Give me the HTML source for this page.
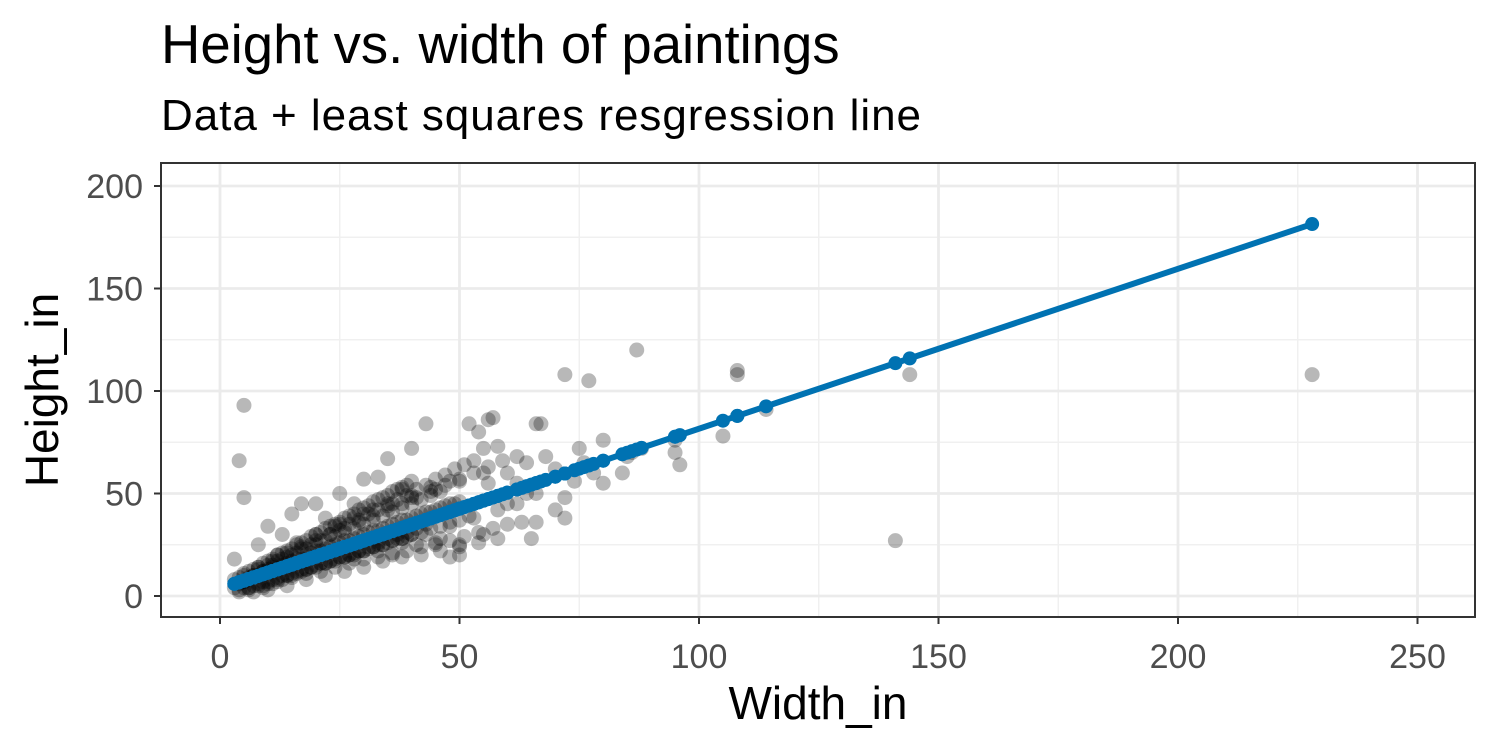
<!DOCTYPE html>
<html><head><meta charset="utf-8"><style>
body{margin:0;background:#fff}
svg text{font-family:"Liberation Sans",Arial,sans-serif}
</style></head><body>
<svg id="chart" width="1500" height="750" xmlns="http://www.w3.org/2000/svg">
<text x="161" y="63" font-size="54.5" fill="#000">Height vs. width of paintings</text>
<text x="161" y="130" font-size="44" fill="#000" textLength="760">Data + least squares resgression line</text>
<g id="grid"></g>
<g id="pts"></g>
<g id="fit"></g>
<rect x="161" y="163" width="1314" height="454" fill="none" stroke="#333" stroke-width="2"/>
<g id="axes"></g>
<text x="818" y="719" font-size="46" text-anchor="middle" fill="#000">Width_in</text>
<text transform="translate(58,390) rotate(-90)" font-size="46" text-anchor="middle" fill="#000">Height_in</text>
</svg>
<script>
const xTicks=[0,50,100,150,200,250];
const yTicks=[0,50,100,150,200];
const widths=[228,141,144,108,108,87,72,77,5,4,5,17,3,72,95,96,105,114,95,85,80,75,66,67,56,57,54,55,52,43,40,58,62,60,64,66,70,72,70,78,80,65,50,48,55,50,45,35,30,33,38,25,20,13,10,8,15,22,28,
3,4,5,6,7,8,9,10,11,12,13,14,15,16,17,18,19,20,21,22,23,24,25,26,27,28,29,30,31,32,33,34,35,36,37,38,39,40,41,42,43,44,45,46,47,48,49,50,
4,6,8,10,12,14,16,18,20,22,24,26,28,30,32,34,36,38,40,42,44,46,48,50,52,
5,7,9,11,13,15,17,19,21,23,25,27,29,31,33,35,37,39,41,43,45,47,49,51,53,
6,9,12,15,18,21,24,27,30,33,36,39,42,45,48,51,54,57,60,63,
3,5,8,11,14,17,20,23,26,29,32,35,38,41,44,47,50,53,56,59,62,
10,14,18,22,26,30,34,38,42,46,50,54,58,24,28,32,36,40,44,48,20,16,12,
4,5,6,7,8,9,10,11,12,13,14,15,16,17,18,19,20,21,22,23,24,25,26,27,28,29,30,31,32,33,34,35,36,37,38,39,40,
4,5,6,7,8,9,10,11,12,13,14,15,16,17,18,19,20,21,22,23,24,25,26,27,28,29,30,31,32,33,34,35,36,37,38,39,40,
8,10,12,14,16,18,20,22,24,26,28,30,32,34,36,38,40,42,44,46,
7,9,11,13,15,17,19,21,23,25,27,29,31,33,35,37,39,41,43,
25,30,35,40,45,50,55,28,33,38,43,48,53,36,41,46,
56,60,64,68,58,62,66,74,76,84,86,88];
const heights=[108,27,108,110,108,120,108,105,93,66,48,45,18,48,70,64,78,91,76,68,76,72,84,84,86,87,80,72,84,84,72,73,55,45,50,36,42,38,62,60,55,28,20,19,30,25,25,67,57,58,52,50,45,30,34,25,40,38,45,
4,6,7,9,10,10,12,13,14,13,15,16,17,18,18,20,21,22,22,23,24,25,26,27,27,28,29,30,31,32,32,33,34,35,36,37,37,38,39,40,41,41,42,43,44,45,45,46,
2,4,5,6,8,10,11,13,14,16,17,19,20,22,24,25,27,28,30,31,33,34,36,37,39,
7,10,12,15,18,20,23,25,27,30,32,35,37,40,42,44,47,49,52,54,57,59,62,64,66,
3,5,7,9,11,12,14,16,18,19,21,22,24,26,27,29,31,33,35,36,
8,11,14,17,21,24,27,30,33,36,39,42,45,48,51,54,57,60,63,66,68,
3,5,8,10,12,14,17,19,20,22,24,26,28,34,38,42,45,49,53,56,30,26,20,
9,10,12,13,14,16,17,18,20,21,22,23,25,26,27,29,30,31,33,34,35,36,38,39,40,42,43,44,46,47,48,49,51,52,53,54,56,
3,4,4,5,6,7,7,8,9,10,10,11,12,13,13,14,15,16,16,17,18,19,19,20,21,22,22,23,24,25,25,26,27,28,28,29,30,
13,15,17,19,21,23,25,27,29,31,33,35,37,39,41,43,45,47,49,51,
2,4,6,8,10,12,14,16,17,19,20,22,24,26,28,30,31,33,35,
35,40,45,48,52,56,60,18,22,26,30,34,38,20,25,28,
55,60,65,68,42,45,50,56,65,60,70,72];
const fitIntercept=3.6, fitSlope=0.78;
const NS="http://www.w3.org/2000/svg";
const X0=161,X1=1475,Y0=163,Y1=617;
const xs=v=>220+v*4.79, ys=v=>596-v*2.05;
function mk(tag,attrs,parent){const e=document.createElementNS(NS,tag);for(const k in attrs)e.setAttribute(k,attrs[k]);parent.appendChild(e);return e;}
const grid=document.getElementById('grid'),axes=document.getElementById('axes'),pts=document.getElementById('pts'),fit=document.getElementById('fit');
mk('rect',{x:X0,y:Y0,width:X1-X0,height:Y1-Y0,fill:'#fff'},grid);
for(let i=0;i<xTicks.length-1;i++){const m=(xTicks[i]+xTicks[i+1])/2;const l=mk('line',{x1:xs(m),x2:xs(m),y1:Y0,y2:Y1,stroke:'#f0f0f0','stroke-width':1.4},grid);

}
for(let i=0;i<yTicks.length-1;i++){const m=(yTicks[i]+yTicks[i+1])/2;const l=mk('line',{x1:X0,x2:X1,y1:ys(m),y2:ys(m),stroke:'#f0f0f0','stroke-width':1.4},grid);

}
xTicks.forEach(t=>{const l=mk('line',{x1:xs(t),x2:xs(t),y1:Y0,y2:Y1,stroke:'#ebebeb','stroke-width':2.8},grid);


mk('line',{x1:xs(t),x2:xs(t),y1:Y1,y2:Y1+7,stroke:'#333','stroke-width':2},axes);
const tx=mk('text',{x:xs(t),y:668,'font-size':34,'text-anchor':'middle',fill:'#4d4d4d'},axes);tx.textContent=t;

});
yTicks.forEach(t=>{const l=mk('line',{x1:X0,x2:X1,y1:ys(t),y2:ys(t),stroke:'#ebebeb','stroke-width':2.8},grid);


mk('line',{x1:X0-7,x2:X0,y1:ys(t),y2:ys(t),stroke:'#333','stroke-width':2},axes);
const tx=mk('text',{x:X0-18,y:ys(t)+12,'font-size':34,'text-anchor':'end',fill:'#4d4d4d'},axes);tx.textContent=t;

});
widths.forEach((w,i)=>{const c=mk('circle',{cx:xs(w),cy:ys(heights[i]),r:7.5,fill:'#000','fill-opacity':0.28},pts);

});
const minW=Math.min(...widths),maxW=Math.max(...widths);
const ln=mk('line',{x1:xs(minW),y1:ys(fitIntercept+fitSlope*minW),x2:xs(maxW),y2:ys(fitIntercept+fitSlope*maxW),stroke:'#0072B2','stroke-width':6},fit);


widths.forEach(w=>{const c=mk('circle',{cx:xs(w),cy:ys(fitIntercept+fitSlope*w),r:7,fill:'#0072B2'},fit);

});
</script>
</body></html>
